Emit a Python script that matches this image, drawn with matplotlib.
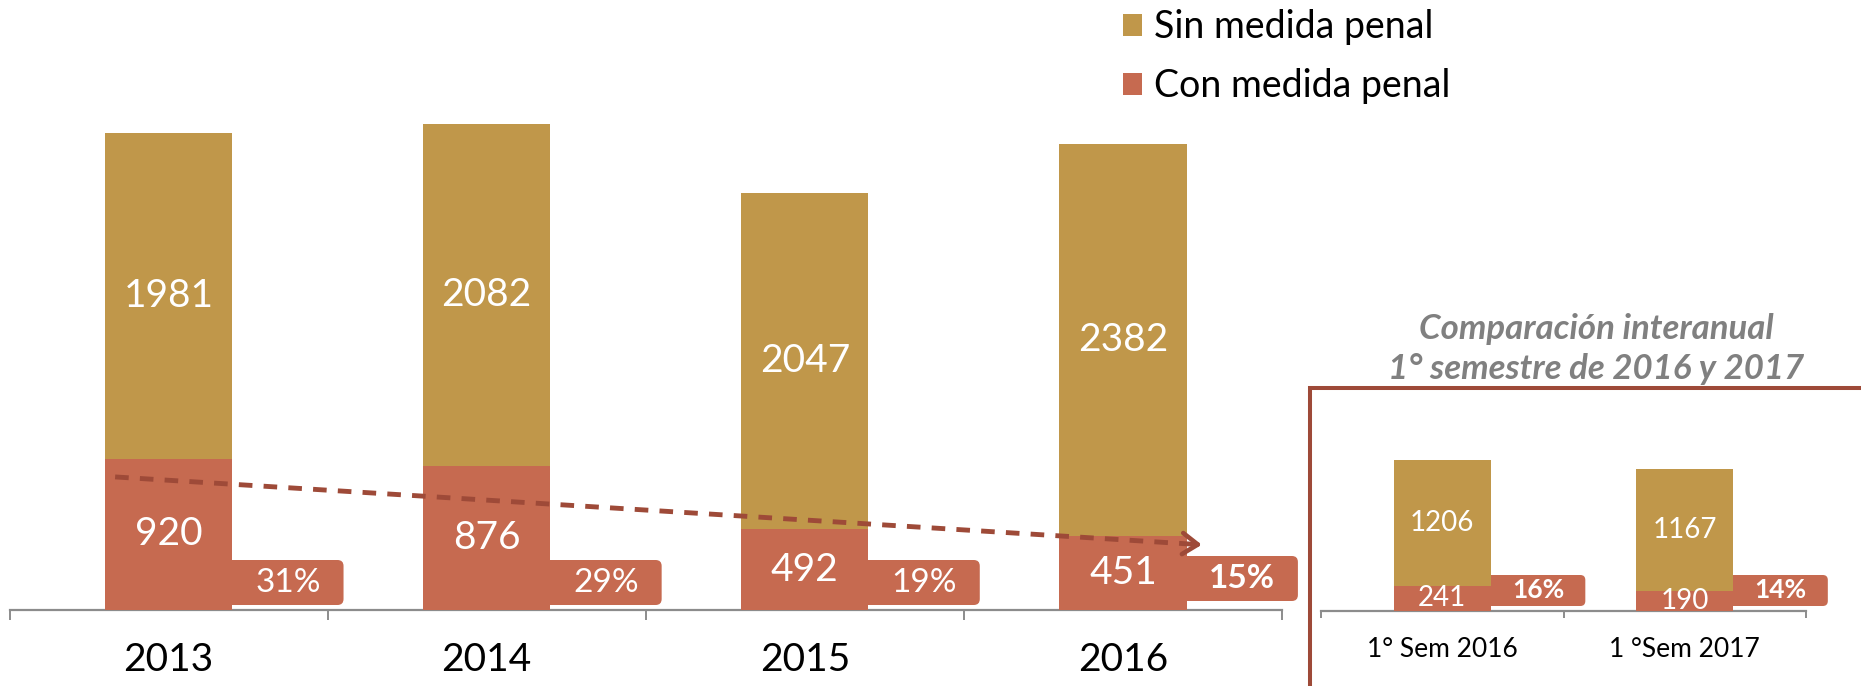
import matplotlib
matplotlib.use('Agg')
import matplotlib.pyplot as plt
from matplotlib.patches import FancyBboxPatch, Rectangle, Patch
from matplotlib.transforms import IdentityTransform, offset_copy

# ---------------- data ----------------
years = ['2013', '2014', '2015', '2016']
sin_medida = [1981, 2082, 2047, 2382]
con_medida = [920, 876, 492, 451]
pct_labels = ['31%', '29%', '19%', '15%']
pct_bold = [False, False, False, True]

sem_labels = ['1° Sem 2016', '1 °Sem 2017']
sem_sin = [1206, 1167]
sem_con = [241, 190]
sem_pct = ['16%', '14%']

legend_labels = ['Sin medida penal', 'Con medida penal']
inset_title = ['Comparación interanual', '1° semestre de 2016 y 2017']

# ---------------- style ----------------
GOLD = '#C0974A'
RED = '#C66A50'
BROWN = '#9E4A38'
AXIS = '#8C8C8C'
TITLE_GRAY = '#808080'

plt.rcParams['font.family'] = ['Lato', 'DejaVu Sans']

W, H = 1861, 686
fig = plt.figure(figsize=(W / 100, H / 100), dpi=100)


def px_axes(x0, x1, ybase, ytop):
    return fig.add_axes([x0 / W, (H - ybase) / H, (x1 - x0) / W, (ybase - ytop) / H])


def style_axis(a, n, ticklen):
    for s in ['top', 'right', 'left']:
        a.spines[s].set_visible(False)
    a.spines['bottom'].set_color(AXIS)
    a.spines['bottom'].set_linewidth(1.6)
    a.set_yticks([])
    a.set_xticks([i - 0.5 for i in range(n + 1)])
    a.set_xticklabels([])
    a.tick_params(axis='x', which='major', length=ticklen, width=1.4, color=AXIS, direction='out')
    a.patch.set_alpha(0)


def pct_box(a, i, bar_w, box_w, bottom_px, height_px, text, fs, bold, rounding=6):
    xl, yb = a.transData.transform((i + bar_w / 2 - 0.03, 0))
    xv, _ = a.transData.transform((i + bar_w / 2, 0))
    xr, _ = a.transData.transform((i + bar_w / 2 + box_w, 0))
    y0 = yb + bottom_px
    box = FancyBboxPatch((xl, y0), xr - xl, height_px,
                         boxstyle=f'round,pad=0,rounding_size={rounding}',
                         transform=IdentityTransform(), facecolor=RED,
                         edgecolor='none', zorder=1.5, clip_on=False)
    a.add_artist(box)
    a.text((xv + xr) / 2, y0 + height_px / 2, text, transform=IdentityTransform(),
           ha='center', va='center', color='white', fontsize=fs,
           fontweight='bold' if bold else 'normal', zorder=6, clip_on=False)


# ---------------- main chart ----------------
ax = px_axes(9.5, 1282, 610, 84)
x = list(range(len(years)))
bar_w = 0.4
ax.set_xlim(-0.5, len(years) - 0.5)
ax.set_ylim(0, 3200)
style_axis(ax, len(years), 7)

ax.bar(x, con_medida, width=bar_w, color=RED, zorder=3, label=legend_labels[1])
ax.bar(x, sin_medida, width=bar_w, bottom=con_medida, color=GOLD, zorder=3,
       label=legend_labels[0])

for i in x:
    ax.text(i, con_medida[i] / 2, str(con_medida[i]), ha='center', va='center',
            color='white', fontsize=28, zorder=6)
    ax.text(i, con_medida[i] + sin_medida[i] / 2, str(sin_medida[i]), ha='center',
            va='center', color='white', fontsize=28, zorder=6)
    pct_box(ax, i, bar_w, 0.35, 9 if pct_bold[i] else 5, 45, pct_labels[i], 24, pct_bold[i])

year_tr = offset_copy(ax.get_xaxis_transform(), fig=fig, x=0, y=-61, units='dots')
for i, lab in zip(x, years):
    ax.text(i, 0, lab, transform=year_tr, ha='center', va='baseline', fontsize=28,
            color='black')

# dashed trend arrow
xs, ys = x[0] - 0.42 * bar_w, con_medida[0] * 0.88
xe, ye = x[-1] + 0.62 * bar_w, con_medida[-1] * 0.88
ax.plot([xs, xe - 0.02], [ys, ye + (ys - ye) * 0.02 / (xe - xs)],
        linestyle=(0, (2.8, 2.3)), lw=3.5, color=BROWN, zorder=5,
        dash_capstyle='butt')
ax.annotate('', xy=(xe, ye), xytext=(xe - 0.03, ye + (ys - ye) * 0.03 / (xe - xs)),
            arrowprops=dict(arrowstyle='->,head_length=0.55,head_width=0.38',
                            color=BROWN, lw=3.3, mutation_scale=20,
                            shrinkA=0, shrinkB=0), zorder=5)

# legend
fig.legend(handles=[Patch(facecolor=GOLD), Patch(facecolor=RED)], labels=legend_labels,
           loc='upper left', bbox_to_anchor=(1123 / W, 1 - 9 / H),
           frameon=False, fontsize=27, handlelength=0.51, handleheight=0.51,
           handletextpad=0.33, labelspacing=0.62, borderpad=0, borderaxespad=0)

# ---------------- inset chart ----------------
ax2 = px_axes(1321, 1806, 611, 402)
x2 = list(range(len(sem_labels)))
ax2.set_xlim(-0.5, len(sem_labels) - 0.5)
ax2.set_ylim(0, 2000)
style_axis(ax2, len(sem_labels), 5)

ax2.bar(x2, sem_con, width=bar_w, color=RED, zorder=3)
ax2.bar(x2, sem_sin, width=bar_w, bottom=sem_con, color=GOLD, zorder=3)
for i in x2:
    ax2.text(i, sem_con[i] + sem_sin[i] / 2, str(sem_sin[i]), ha='center', va='center',
             color='white', fontsize=20, zorder=6)
    ax2.text(i, sem_con[i] / 2, str(sem_con[i]), ha='center', va='center',
             color='white', fontsize=20, zorder=6, clip_on=True)
    pct_box(ax2, i, bar_w, 0.39, 5, 31, sem_pct[i], 19, True, rounding=5)

sem_tr = offset_copy(ax2.get_xaxis_transform(), fig=fig, x=0, y=-46, units='dots')
for i, lab in zip(x2, sem_labels):
    ax2.text(i, 0, lab, transform=sem_tr, ha='center', va='baseline', fontsize=19,
             color='black')

# inset frame and title
fig.add_artist(Rectangle((1310 / W, -0.2), 1.0, (H - 388) / H + 0.2,
                         transform=fig.transFigure, fill=False, edgecolor=BROWN,
                         lw=2.9, clip_on=False))
fig.text(1596 / W, (H - 329) / H, inset_title[0], ha='center', va='center', fontsize=25,
         fontweight='bold', style='italic', color=TITLE_GRAY)
fig.text(1596 / W, (H - 369) / H, inset_title[1], ha='center', va='center', fontsize=25,
         fontweight='bold', style='italic', color=TITLE_GRAY)

fig.savefig('out.png', dpi=100)
